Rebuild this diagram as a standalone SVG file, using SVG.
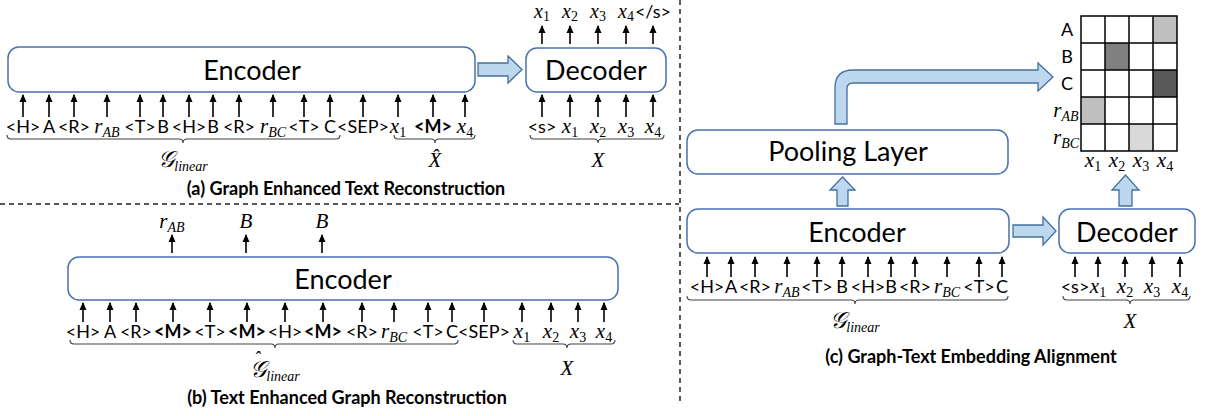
<svg xmlns="http://www.w3.org/2000/svg" width="1220" height="416" viewBox="0 0 1220 416">
<style>
.box{fill:#fff;stroke:#4A72B0;stroke-width:1.5}
.blk{fill:#BDD7EE;stroke:#41719C;stroke-width:1.3}
.arr{stroke:#000;stroke-width:1.6;fill:none;marker-end:url(#ah)}
.t{font-family:Lato,"Liberation Sans",sans-serif;font-size:18px;text-anchor:middle;fill:#000}
.bg{font-family:Lato,"Liberation Sans",sans-serif;font-size:27px;text-anchor:middle;fill:#000}
.b{font-weight:bold}
.ttl{font-family:Lato,"Liberation Sans",sans-serif;font-size:18px;font-weight:bold;text-anchor:middle;fill:#000}
.m{font-family:"Liberation Serif","DejaVu Serif",serif;font-style:italic;font-size:21px;text-anchor:middle;fill:#000}
.top{font-size:20px}
.sb{font-size:14px}
.sd{font-size:14px;font-style:normal}
.br{fill:none;stroke:#404040;stroke-width:1.1}
.dash{fill:none;stroke:#222;stroke-width:1.5;stroke-dasharray:5 4}
.grid{fill:none;stroke:#000;stroke-width:1.5}
</style>
<defs>
<marker id="ah" markerWidth="8" markerHeight="8" refX="7" refY="4" orient="auto" markerUnits="userSpaceOnUse"><path d="M0,0.5 L8,4 L0,7.5 z" fill="#000"/></marker>
</defs>

<!-- dividers -->
<path class="dash" d="M0,204 H679"/>
<path class="dash" d="M680,0 V402"/>

<!-- Panel (a) -->
<g id="a-encoder"><rect class="box" x="8" y="47" width="467" height="45" rx="11"/><text class="bg" x="252" y="80">Encoder</text></g>
<g id="a-decoder"><rect class="box" x="526" y="48" width="140" height="44" rx="11"/><text class="bg" x="596" y="80">Decoder</text></g>
<g id="a-tokens">
<text class="t" x="23" y="133">&lt;H&gt;</text>
<text class="t" x="49" y="133">A</text>
<text class="t" x="74" y="133">&lt;R&gt;</text>
<text class="m" x="107" y="133">r<tspan class="sb" dy="4">AB</tspan></text>
<text class="t" x="140" y="133">&lt;T&gt;</text>
<text class="t" x="163" y="133">B</text>
<text class="t" x="189" y="133">&lt;H&gt;</text>
<text class="t" x="213" y="133">B</text>
<text class="t" x="239" y="133">&lt;R&gt;</text>
<text class="m" x="273" y="133">r<tspan class="sb" dy="4">BC</tspan></text>
<text class="t" x="304" y="133">&lt;T&gt;</text>
<text class="t" x="330" y="133">C</text>
<text class="t" x="363" y="133">&lt;SEP&gt;</text>
<text class="m" x="398" y="133">x<tspan class="sd" dy="4">1</tspan></text>
<text class="t b" x="433" y="133">&lt;M&gt;</text>
<text class="m" x="465" y="133">x<tspan class="sd" dy="4">4</tspan></text>
<text class="t" x="542" y="133">&lt;s&gt;</text>
<text class="m" x="570" y="133">x<tspan class="sd" dy="4">1</tspan></text>
<text class="m" x="598" y="133">x<tspan class="sd" dy="4">2</tspan></text>
<text class="m" x="626" y="133">x<tspan class="sd" dy="4">3</tspan></text>
<text class="m" x="653" y="133">x<tspan class="sd" dy="4">4</tspan></text>
<text class="m top" x="542" y="18">x<tspan class="sd" dy="3">1</tspan></text>
<text class="m top" x="570" y="18">x<tspan class="sd" dy="3">2</tspan></text>
<text class="m top" x="598" y="18">x<tspan class="sd" dy="3">3</tspan></text>
<text class="m top" x="626" y="18">x<tspan class="sd" dy="3">4</tspan></text>
<text class="t" x="653" y="18">&lt;/s&gt;</text>
<text class="m" x="183" y="167"><tspan font-size="23">𝒢</tspan><tspan class="sb" dy="4">linear</tspan></text>
<text class="m" x="435" y="167">X̂</text>
<text class="m" x="598" y="167">X</text>
</g>
<text class="ttl" x="346" y="195">(a) Graph Enhanced Text Reconstruction</text>

<!-- Panel (b) -->
<g id="b-encoder"><rect class="box" x="68" y="257" width="550" height="43" rx="11"/><text class="bg" x="343" y="289">Encoder</text></g>
<g id="b-tokens">
<text class="m" x="172" y="228">r<tspan class="sb" dy="4">AB</tspan></text>
<text class="m" x="246" y="228">B</text>
<text class="m" x="322" y="228">B</text>
<text class="t" x="83" y="338">&lt;H&gt;</text>
<text class="t" x="110" y="338">A</text>
<text class="t" x="136" y="338">&lt;R&gt;</text>
<text class="t b" x="173" y="338">&lt;M&gt;</text>
<text class="t" x="210" y="338">&lt;T&gt;</text>
<text class="t b" x="247" y="338">&lt;M&gt;</text>
<text class="t" x="285" y="338">&lt;H&gt;</text>
<text class="t b" x="323" y="338">&lt;M&gt;</text>
<text class="t" x="362" y="338">&lt;R&gt;</text>
<text class="m" x="394" y="338">r<tspan class="sb" dy="4">BC</tspan></text>
<text class="t" x="428" y="338">&lt;T&gt;</text>
<text class="t" x="452" y="338">C</text>
<text class="t" x="484" y="338">&lt;SEP&gt;</text>
<text class="m" x="522" y="338">x<tspan class="sd" dy="4">1</tspan></text>
<text class="m" x="551" y="338">x<tspan class="sd" dy="4">2</tspan></text>
<text class="m" x="578" y="338">x<tspan class="sd" dy="4">3</tspan></text>
<text class="m" x="604" y="338">x<tspan class="sd" dy="4">4</tspan></text>
<text class="m" x="275" y="377"><tspan font-size="23">𝒢</tspan><tspan font-size="18" dx="-12" dy="-13">ˆ</tspan><tspan class="sb" dx="6" dy="17">linear</tspan></text>
<text class="m" x="567" y="375">X</text>
</g>
<text class="ttl" x="347" y="404">(b) Text Enhanced Graph Reconstruction</text>

<!-- Panel (c) -->
<g id="c-pooling"><rect class="box" x="687" y="130" width="321" height="44" rx="11"/><text class="bg" x="848" y="161">Pooling Layer</text></g>
<g id="c-encoder"><rect class="box" x="687" y="209" width="322" height="44" rx="11"/><text class="bg" x="857" y="242">Encoder</text></g>
<g id="c-decoder"><rect class="box" x="1059" y="209" width="136" height="44" rx="11"/><text class="bg" x="1127" y="242">Decoder</text></g>
<g id="c-grid">
<rect x="1153" y="16" width="24" height="27" fill="#BFBFBF"/>
<rect x="1105" y="43" width="24" height="27" fill="#808080"/>
<rect x="1153" y="70" width="24" height="27" fill="#595959"/>
<rect x="1081" y="97" width="24" height="27" fill="#BFBFBF"/>
<rect x="1129" y="124" width="24" height="27" fill="#D9D9D9"/>
<path class="grid" d="M1081,16 H1177 V151 H1081 Z M1105,16 V151 M1129,16 V151 M1153,16 V151 M1081,43 H1177 M1081,70 H1177 M1081,97 H1177 M1081,124 H1177"/>
<text class="t" x="1067" y="36">A</text>
<text class="t" x="1067" y="63">B</text>
<text class="t" x="1067" y="90">C</text>
<text class="m" x="1066" y="117">r<tspan class="sb" dy="4">AB</tspan></text>
<text class="m" x="1066" y="144">r<tspan class="sb" dy="4">BC</tspan></text>
<text class="m" x="1093" y="167">x<tspan class="sd" dy="4">1</tspan></text>
<text class="m" x="1117" y="167">x<tspan class="sd" dy="4">2</tspan></text>
<text class="m" x="1141" y="167">x<tspan class="sd" dy="4">3</tspan></text>
<text class="m" x="1165" y="167">x<tspan class="sd" dy="4">4</tspan></text>
</g>
<g id="c-tokens">
<text class="t" x="707" y="293">&lt;H&gt;</text>
<text class="t" x="731" y="293">A</text>
<text class="t" x="755" y="293">&lt;R&gt;</text>
<text class="m" x="787" y="293">r<tspan class="sb" dy="4">AB</tspan></text>
<text class="t" x="817" y="293">&lt;T&gt;</text>
<text class="t" x="842" y="293">B</text>
<text class="t" x="868" y="293">&lt;H&gt;</text>
<text class="t" x="891" y="293">B</text>
<text class="t" x="915" y="293">&lt;R&gt;</text>
<text class="m" x="947" y="293">r<tspan class="sb" dy="4">BC</tspan></text>
<text class="t" x="979" y="293">&lt;T&gt;</text>
<text class="t" x="1002" y="293">C</text>
<text class="t" x="1075" y="293">&lt;s&gt;</text>
<text class="m" x="1098" y="293">x<tspan class="sd" dy="4">1</tspan></text>
<text class="m" x="1125" y="293">x<tspan class="sd" dy="4">2</tspan></text>
<text class="m" x="1152" y="293">x<tspan class="sd" dy="4">3</tspan></text>
<text class="m" x="1180" y="293">x<tspan class="sd" dy="4">4</tspan></text>
<text class="m" x="855" y="328"><tspan font-size="23">𝒢</tspan><tspan class="sb" dy="4">linear</tspan></text>
<text class="m" x="1130" y="328">X</text>
</g>
<text class="ttl" x="971" y="363">(c) Graph-Text Embedding Alignment</text>

<!-- connectors -->
<g id="connectors">
<g id="braces">
<path class="br" d="M7,135 q0,4 4,4 H179 q4,0 4,4 q0,-4 4,-4 H336 q4,0 4,-4"/>
<path class="br" d="M394,135 q0,4 4,4 H431 q4,0 4,4 q0,-4 4,-4 H471 q4,0 4,-4"/>
<path class="br" d="M530,135 q0,4 4,4 H594 q4,0 4,4 q0,-4 4,-4 H660 q4,0 4,-4"/>
<path class="br" d="M70,340 q0,4 4,4 H271 q4,0 4,4 q0,-4 4,-4 H454 q4,0 4,-4"/>
<path class="br" d="M513,340 q0,4 4,4 H563 q4,0 4,4 q0,-4 4,-4 H611 q4,0 4,-4"/>
<path class="br" d="M687,296 q0,4 4,4 H851 q4,0 4,4 q0,-4 4,-4 H1004 q4,0 4,-4"/>
<path class="br" d="M1063,296 q0,4 4,4 H1126 q4,0 4,4 q0,-4 4,-4 H1186 q4,0 4,-4"/>
</g>
<g id="arrows-a">
<path class="arr" d="M23,117 V95"/><path class="arr" d="M49,117 V95"/><path class="arr" d="M74,117 V95"/><path class="arr" d="M107,117 V95"/>
<path class="arr" d="M140,117 V95"/><path class="arr" d="M163,117 V95"/><path class="arr" d="M189,117 V95"/><path class="arr" d="M213,117 V95"/>
<path class="arr" d="M239,117 V95"/><path class="arr" d="M273,117 V95"/><path class="arr" d="M304,117 V95"/><path class="arr" d="M330,117 V95"/>
<path class="arr" d="M363,117 V95"/><path class="arr" d="M398,117 V95"/><path class="arr" d="M433,117 V95"/><path class="arr" d="M465,117 V95"/>
<path class="arr" d="M542,117 V95"/><path class="arr" d="M570,117 V95"/><path class="arr" d="M598,117 V95"/><path class="arr" d="M626,117 V95"/><path class="arr" d="M653,117 V95"/>
<path class="arr" d="M542,44 V26"/><path class="arr" d="M570,44 V26"/><path class="arr" d="M598,44 V26"/><path class="arr" d="M626,44 V26"/><path class="arr" d="M653,44 V26"/>
<path class="blk" d="M478,63 H508 V56 L522,69.5 L508,83 V76 H478 Z"/>
</g>
<g id="arrows-b">
<path class="arr" d="M172,253 V235"/><path class="arr" d="M246,253 V235"/><path class="arr" d="M322,253 V235"/>
<path class="arr" d="M83,322 V303"/><path class="arr" d="M110,322 V303"/><path class="arr" d="M136,322 V303"/><path class="arr" d="M173,322 V303"/>
<path class="arr" d="M210,322 V303"/><path class="arr" d="M247,322 V303"/><path class="arr" d="M285,322 V303"/><path class="arr" d="M323,322 V303"/>
<path class="arr" d="M362,322 V303"/><path class="arr" d="M394,322 V303"/><path class="arr" d="M428,322 V303"/><path class="arr" d="M452,322 V303"/>
<path class="arr" d="M484,322 V303"/><path class="arr" d="M522,322 V303"/><path class="arr" d="M551,322 V303"/><path class="arr" d="M578,322 V303"/><path class="arr" d="M604,322 V303"/>
</g>
<g id="arrows-c">
<path class="arr" d="M707,277 V257"/><path class="arr" d="M731,277 V257"/><path class="arr" d="M755,277 V257"/><path class="arr" d="M787,277 V257"/>
<path class="arr" d="M817,277 V257"/><path class="arr" d="M842,277 V257"/><path class="arr" d="M868,277 V257"/><path class="arr" d="M891,277 V257"/>
<path class="arr" d="M915,277 V257"/><path class="arr" d="M947,277 V257"/><path class="arr" d="M979,277 V257"/><path class="arr" d="M1002,277 V257"/>
<path class="arr" d="M1075,277 V257"/><path class="arr" d="M1098,277 V257"/><path class="arr" d="M1125,277 V257"/><path class="arr" d="M1152,277 V257"/><path class="arr" d="M1180,277 V257"/>
<path class="blk" d="M835,124 V88 Q835,70 853,70 H1038 V63 L1053,77 L1038,91 V83 H853 Q847,83 847,89 V124 Z"/>
<path class="blk" d="M837,206 V190 H830 L842.5,177 L855,190 H848 V206 Z"/>
<path class="blk" d="M1119,206 V190 H1112 L1125.5,175 L1139,190 H1132 V206 Z"/>
<path class="blk" d="M1013,225 H1043 V217 L1056,231 L1043,245 V237 H1013 Z"/>
</g>
</g>
</svg>
